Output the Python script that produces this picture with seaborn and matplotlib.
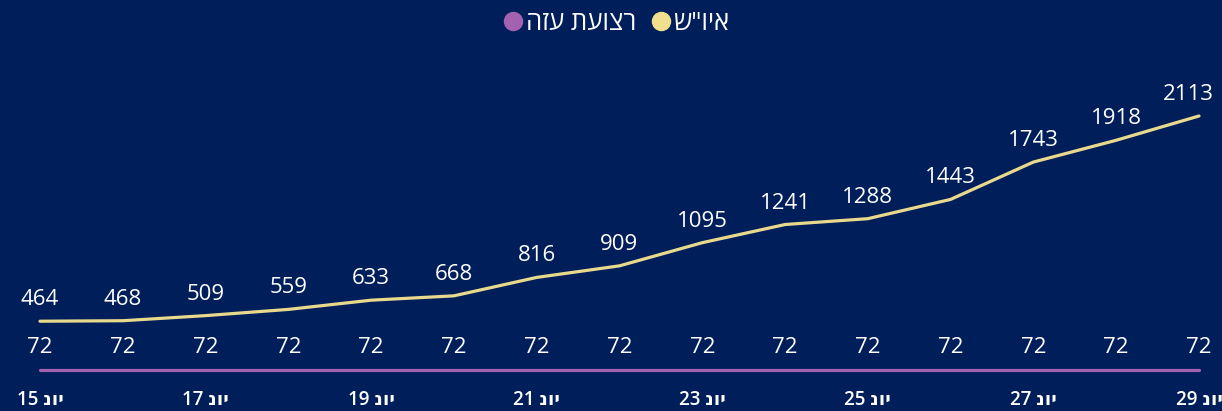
import matplotlib
matplotlib.use("Agg")
import matplotlib.pyplot as plt
from matplotlib.lines import Line2D
import seaborn as sns
import pandas as pd

days = [15, 16, 17, 18, 19, 20, 21, 22, 23, 24, 25, 26, 27, 28, 29]
west_bank = [464, 468, 509, 559, 633, 668, 816, 909, 1095, 1241, 1288, 1443, 1743, 1918, 2113]
gaza = [72] * 15
series_names = ['איו"ש', "רצועת עזה"]
tick_days = [15, 17, 19, 21, 23, 25, 27, 29]
month_label = "יונ"

BG = "#001e5a"
YELLOW = "#e9d98c"
PURPLE = "#a461b0"
FONTS = ["Open Sans", "DejaVu Sans"]

def vis(s):
    # matplotlib has no bidi support: give Hebrew in visual order
    return s[::-1]

df = pd.DataFrame({
    "day": days * 2,
    "value": west_bank + gaza,
    "series": [series_names[0]] * len(days) + [series_names[1]] * len(days),
})

sns.set_theme(style="white")
plt.rcParams["font.family"] = FONTS

fig = plt.figure(figsize=(12.22, 4.11), dpi=100, facecolor=BG)
ax = fig.add_axes([0, 23 / 411, 1, (388 - 45) / 411])
ax.set_facecolor(BG)

sns.lineplot(data=df, x="day", y="value", hue="series",
             palette={series_names[0]: YELLOW, series_names[1]: PURPLE},
             linewidth=2.3, legend=False, ax=ax)

for i, (d, v) in enumerate(zip(days, west_bank)):
    dx = -8 if i == len(days) - 1 else 0
    ax.annotate(str(v), (d, v), xytext=(dx, 11.5), textcoords="offset points",
                ha="center", va="baseline", color="white", fontsize=16)
for d, v in zip(days, gaza):
    ax.annotate(str(v), (d, v), xytext=(0, 12.2), textcoords="offset points",
                ha="center", va="baseline", color="white", fontsize=16)

ax.set_xlim(14.517, 29.278)
ax.set_ylim(-72.6, 2683.5)
ax.set_xticks(tick_days)
ax.set_xticklabels([f"{d} {vis(month_label)}" for d in tick_days],
                   color="white", fontsize=13.5, fontweight="semibold")
ax.tick_params(axis="x", length=0, pad=1.5)
ax.set_yticks([])
ax.set_xlabel("")
ax.set_ylabel("")
for s in ax.spines.values():
    s.set_visible(False)

handles = [
    Line2D([], [], marker="o", linestyle="none", markersize=13,
           markerfacecolor=PURPLE, markeredgecolor=PURPLE),
    Line2D([], [], marker="o", linestyle="none", markersize=13,
           markerfacecolor="#f0df8c", markeredgecolor="#f0df8c"),
]
labels = [vis(series_names[1]), vis(series_names[0])]
fig.legend(handles, labels, loc="center", bbox_to_anchor=(0.504, 1 - 23 / 411),
           ncol=2, frameon=False, fontsize=18.5, labelcolor="white",
           handletextpad=0.05, columnspacing=0.5, handlelength=0.9)

fig.savefig("out.png", dpi=100, facecolor=BG)
